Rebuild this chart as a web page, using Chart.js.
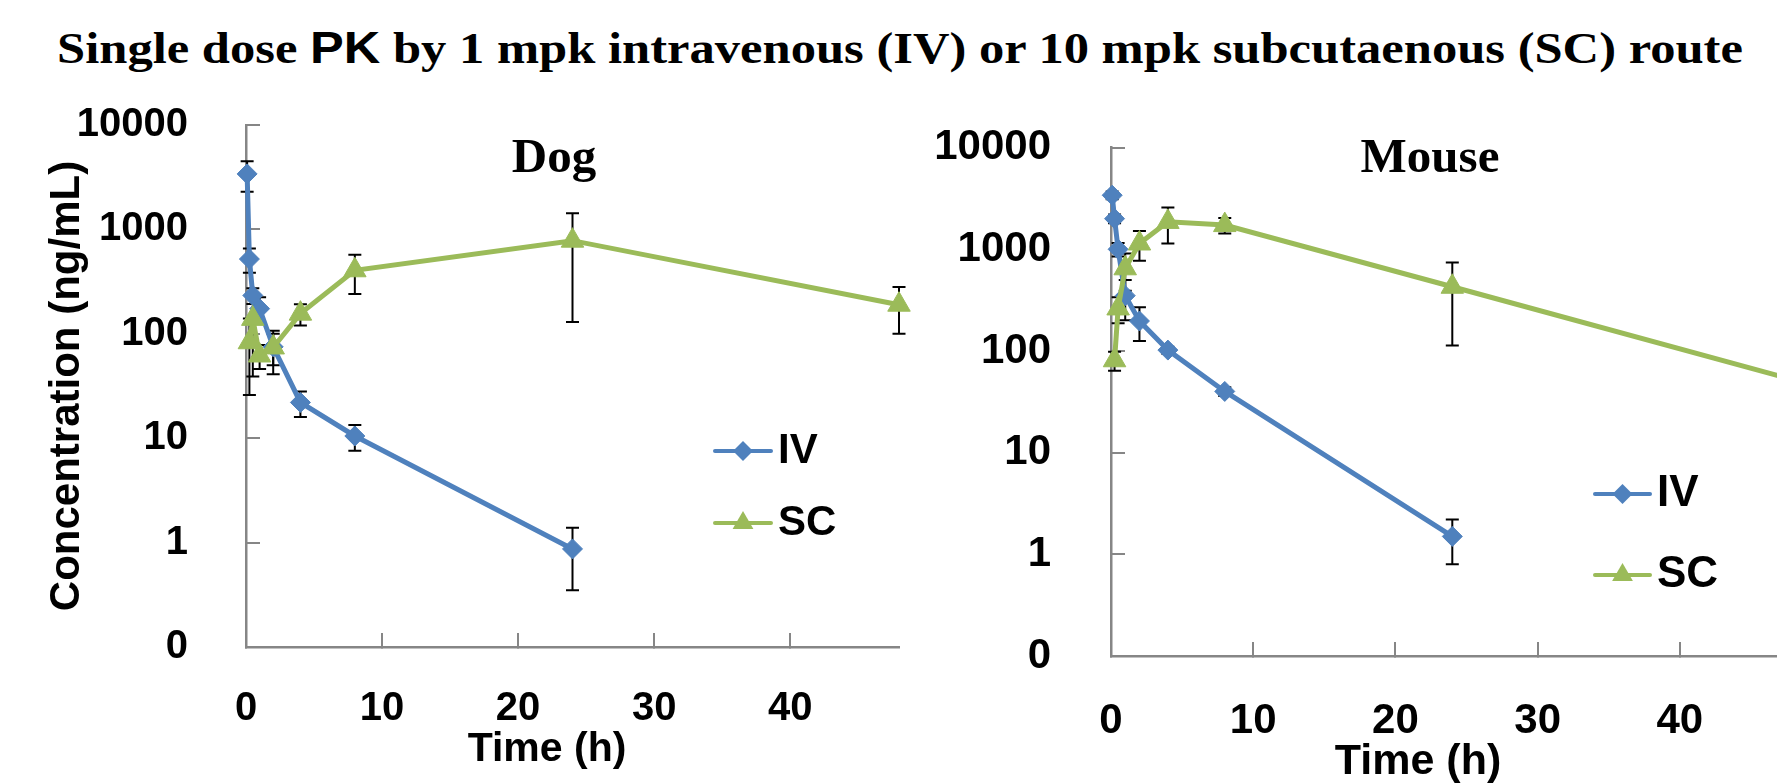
<!DOCTYPE html>
<html>
<head>
<meta charset="utf-8">
<title>Single dose PK</title>
<script src="https://cdn.jsdelivr.net/npm/chart.js@4.4.1/dist/chart.umd.min.js"></script>
<style>
  html, body { margin: 0; padding: 0; background: #fff; overflow: hidden; width: 1777px; height: 783px; }
  #title {
    position: absolute; left: 0; top: 25px; width: 1800px; text-align: center;
    font-family: "Liberation Serif", "Times New Roman", serif; font-weight: bold;
    font-size: 45px; line-height: 45px; white-space: nowrap; color: #000;
    transform: scaleX(1.124); transform-origin: 900px 0;
  }
  #title .pk { font-family: "Liberation Sans", Arial, sans-serif; }
  .box { position: absolute; top: 0; }
  #dogBox { left: 0; width: 960px; height: 783px; }
  #mouseBox { left: 900px; width: 920px; height: 785px; }
</style>
</head>
<body>
<div id="title">Single dose <span class="pk">PK</span> by 1 mpk intravenous (IV) or 10 mpk subcutaenous (SC) route</div>
<div class="box" id="dogBox"><canvas id="dogChart"></canvas></div>
<div class="box" id="mouseBox"><canvas id="mouseChart"></canvas></div>
<script>
// ---- data (time in h, concentration in ng/mL, SD) ----
var seriesNames = ['IV', 'SC'];

var dogIvTime = [0.083, 0.25, 0.5, 1, 2, 4, 8, 24];
var dogIvConc = [3400, 520, 233, 174, 75, 22, 10.5, 0.87];
var dogIvSd   = [1100, 135, 40, 50, 25, 6, 2.9, 0.52];
var dogScTime = [0.25, 0.5, 1, 2, 4, 8, 24, 48];
var dogScConc = [83, 139, 62, 74, 156, 406, 780, 190];
var dogScSd   = [57, 100, 16, 33, 36, 165, 650, 90];

var mouseIvTime = [0.083, 0.25, 0.5, 1, 2, 4, 8, 24];
var mouseIvConc = [3400, 2000, 1000, 350, 197, 102, 40, 1.5];
var mouseIvSd   = [300, 200, 150, 150, 72, 8, 4, 0.7];
var mouseScTime = [0.25, 0.5, 1, 2, 4, 8, 24, 48];
var mouseScConc = [81, 262, 650, 1140, 1860, 1730, 428, 52];
var mouseScSd   = [17, 75, 260, 370, 720, 300, 315, 0];

var yTicks = [0.1, 1, 10, 100, 1000, 10000];
var yTickLabels = ['0', '1', '10', '100', '1000', '10000'];
var xTicks = [0, 10, 20, 30, 40];

var ivColor = '#4F81BD';
var scColor = '#9BBB59';
var axisGray = '#868686';
var sans = '"Liberation Sans", Arial, sans-serif';
var serif = '"Liberation Serif", "Times New Roman", serif';

function pts(times, values) {
  return times.map(function (t, i) { return { x: t, y: values[i] }; });
}

function tickObjs(list) {
  return list.map(function (v) { return { value: v }; });
}

// vertical SD bars, drawn under the lines
var errorBars = {
  id: 'errorBars',
  beforeDatasetsDraw: function (chart) {
    var ctx = chart.ctx, xs = chart.scales.x, ys = chart.scales.y;
    ctx.save();
    ctx.strokeStyle = '#000';
    ctx.lineWidth = 2;
    chart.data.datasets.forEach(function (ds) {
      ds.data.forEach(function (p, i) {
        var sd = ds.sd[i];
        if (!sd) return;
        var px = xs.getPixelForValue(p.x);
        var hi = ys.getPixelForValue(p.y + sd);
        var lo = ys.getPixelForValue(p.y - sd);
        ctx.beginPath();
        ctx.moveTo(px, hi); ctx.lineTo(px, lo);
        ctx.moveTo(px - 6.5, hi); ctx.lineTo(px + 6.5, hi);
        ctx.moveTo(px - 6.5, lo); ctx.lineTo(px + 6.5, lo);
        ctx.stroke();
      });
    });
    ctx.restore();
  }
};

function marker(ctx, style, x, y, r) {
  ctx.beginPath();
  if (style === 'rectRot') {
    ctx.moveTo(x, y - r); ctx.lineTo(x + r, y); ctx.lineTo(x, y + r); ctx.lineTo(x - r, y);
  } else {
    ctx.moveTo(x, y - r); ctx.lineTo(x + r * 0.866, y + r / 2); ctx.lineTo(x - r * 0.866, y + r / 2);
  }
  ctx.closePath();
  ctx.fill();
}

// Excel style legend: line + marker + name
var sideLegend = {
  id: 'sideLegend',
  afterDraw: function (chart, args, o) {
    var ctx = chart.ctx;
    chart.data.datasets.forEach(function (ds, i) {
      var y = o.y + i * o.gap;
      ctx.save();
      ctx.strokeStyle = ds.borderColor;
      ctx.lineWidth = 4;
      ctx.lineCap = 'round';
      ctx.beginPath();
      ctx.moveTo(o.x, y); ctx.lineTo(o.x + o.len, y);
      ctx.stroke();
      ctx.fillStyle = ds.backgroundColor;
      marker(ctx, ds.pointStyle, o.x + o.len / 2, y, ds.pointStyle === 'rectRot' ? 10 : 12);
      ctx.fillStyle = '#000';
      ctx.font = 'bold ' + o.size + 'px ' + sans;
      ctx.textBaseline = 'middle';
      ctx.textAlign = 'left';
      ctx.fillText(ds.label, o.x + o.len + o.pad, y);
      ctx.restore();
    });
  }
};

// panel name inside the plot and the x axis title, placed like the original
var panelLabel = {
  id: 'panelLabel',
  afterDraw: function (chart, args, o) {
    var ctx = chart.ctx, a = chart.chartArea;
    ctx.save();
    ctx.fillStyle = '#000';
    ctx.textAlign = 'center';
    ctx.textBaseline = 'alphabetic';
    ctx.font = 'bold ' + o.size + 'px ' + serif;
    ctx.fillText(o.text, a.left + o.dx, a.top + o.dy);
    ctx.font = 'bold ' + o.xSize + 'px ' + sans;
    ctx.fillText(o.xText, a.left + o.xDx, o.xBase);
    ctx.restore();
  }
};

function makeChart(id, s) {
  var ctx = document.getElementById(id).getContext('2d');
  return new Chart(ctx, {
    type: 'scatter',
    data: {
      datasets: [{
        label: seriesNames[0],
        data: pts(s.ivTime, s.ivConc),
        sd: s.ivSd,
        showLine: true,
        borderColor: ivColor,
        backgroundColor: ivColor,
        borderWidth: 5,
        pointStyle: 'rectRot',
        pointRadius: s.dRadius,
        pointBorderWidth: 1,
        clip: false,
        order: 1
      }, {
        label: seriesNames[1],
        data: pts(s.scTime, s.scConc),
        sd: s.scSd,
        showLine: true,
        borderColor: scColor,
        backgroundColor: scColor,
        borderWidth: 5,
        pointStyle: 'triangle',
        pointRadius: s.tRadius,
        pointBorderWidth: 1,
        clip: false,
        order: 0
      }]
    },
    options: {
      responsive: true,
      maintainAspectRatio: false,
      animation: false,
      events: [],
      layout: { padding: { left: 0, top: s.padTop, right: s.padRight, bottom: 0 } },
      plugins: {
        legend: { display: false },
        tooltip: { enabled: false },
        sideLegend: s.legend,
        panelLabel: s.label
      },
      scales: {
        x: {
          type: 'linear',
          min: 0,
          max: 48,
          afterBuildTicks: function (sc) { sc.ticks = tickObjs(xTicks); },
          afterFit: function (sc) { sc.height = s.xHeight; },
          ticks: {
            color: '#000',
            font: { family: sans, size: s.tickSize, weight: 'bold' },
            padding: s.xPad,
            maxRotation: 0,
            autoSkip: false
          },
          grid: { drawOnChartArea: false, drawTicks: true, tickLength: -14, color: axisGray, lineWidth: 2 },
          border: { color: axisGray, width: 2.5 },
          title: { display: false }
        },
        y: {
          type: 'logarithmic',
          min: 0.1,
          max: 10000,
          afterBuildTicks: function (sc) { sc.ticks = tickObjs(yTicks); },
          afterFit: function (sc) { sc.width = s.yWidth; },
          ticks: {
            color: '#000',
            font: { family: sans, size: s.tickSize, weight: 'bold' },
            padding: s.yPad,
            autoSkip: false,
            callback: function (v, i) { return yTickLabels[i]; }
          },
          grid: { drawOnChartArea: false, drawTicks: true, tickLength: -14, color: axisGray, lineWidth: 2 },
          border: { color: axisGray, width: 2.5 },
          title: {
            display: s.yTitle,
            text: 'Concentration (ng/mL)',
            color: '#000',
            font: { family: sans, size: 42, weight: 'bold' },
            padding: { top: 42, bottom: 0 }
          }
        }
      }
    },
    plugins: [errorBars, sideLegend, panelLabel]
  });
}

makeChart('dogChart', {
  ivTime: dogIvTime, ivConc: dogIvConc, ivSd: dogIvSd,
  scTime: dogScTime, scConc: dogScConc, scSd: dogScSd,
  dRadius: 10, tRadius: 13,
  padTop: 125, padRight: 61, xHeight: 136, yWidth: 246,
  tickSize: 40, xPad: 52, yPad: 72, yTitle: true,
  legend: { x: 715, y: 451, gap: 72, len: 56, pad: 7, size: 42 },
  label: { text: 'Dog', size: 49, dx: 308, dy: 47, xText: 'Time (h)', xSize: 41, xDx: 301, xBase: 761 }
});

makeChart('mouseChart', {
  ivTime: mouseIvTime, ivConc: mouseIvConc, ivSd: mouseIvSd,
  scTime: mouseScTime, scConc: mouseScConc, scSd: mouseScSd,
  dRadius: 10, tRadius: 13,
  padTop: 147.6, padRight: 26.4, xHeight: 129, yWidth: 211,
  tickSize: 42, xPad: 54, yPad: 74, yTitle: false,
  legend: { x: 695, y: 494, gap: 81, len: 55, pad: 7, size: 44 },
  label: { text: 'Mouse', size: 49, dx: 319, dy: 24, xText: 'Time (h)', xSize: 43, xDx: 307, xBase: 774 }
});
</script>
</body>
</html>
